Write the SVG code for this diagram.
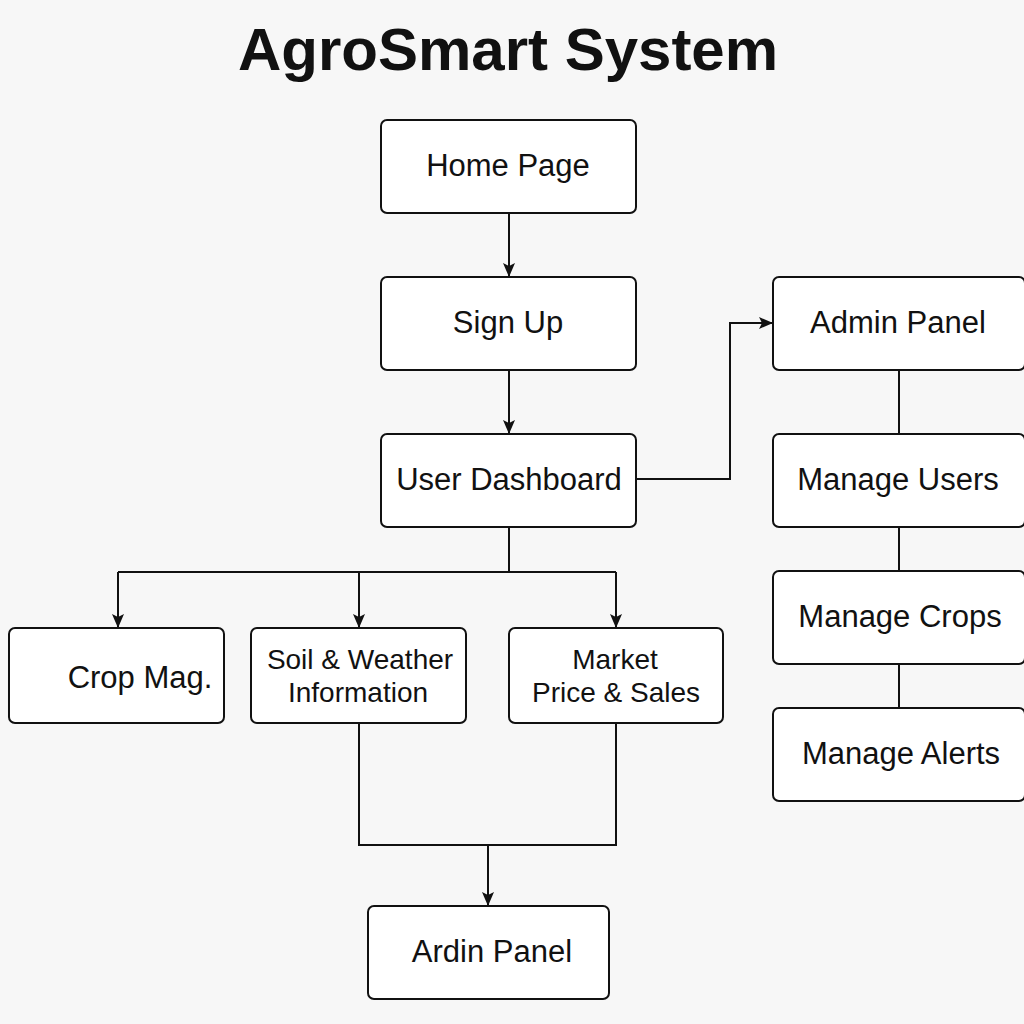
<svg xmlns="http://www.w3.org/2000/svg" width="1024" height="1024" viewBox="0 0 1024 1024">
<defs>
<marker id="arr" viewBox="0 0 14 12" refX="14" refY="6" markerWidth="14" markerHeight="12" markerUnits="userSpaceOnUse" orient="auto">
<path d="M0,0 L14,6 L0,12 L3,6 Z" fill="#111"/>
</marker>
</defs>
<style>
.box{fill:#fff;stroke:#111;stroke-width:2}
.lbl{font-family:"Liberation Sans",Arial,sans-serif;font-size:31px;fill:#111;text-anchor:middle}
.sm{font-size:28px}
.ttl{font-family:"Liberation Sans",Arial,sans-serif;font-size:60px;font-weight:bold;fill:#111;text-anchor:middle}
.ln{fill:none;stroke:#111;stroke-width:2}
</style>
<rect width="1024" height="1024" fill="#f7f7f7"/>
<text class="ttl" x="508" y="70">AgroSmart System</text>
<g id="connectors">
<path class="ln" d="M509,213 V277" marker-end="url(#arr)"/>
<path class="ln" d="M509,370 V434" marker-end="url(#arr)"/>
<path class="ln" d="M636,479 H730 V323 H773" marker-end="url(#arr)"/>
<path class="ln" d="M899,370 V434"/>
<path class="ln" d="M899,527 V571"/>
<path class="ln" d="M899,664 V708"/>
<path class="ln" d="M509,527 V572"/>
<path class="ln" d="M118,572 H616"/>
<path class="ln" d="M118,572 V628" marker-end="url(#arr)"/>
<path class="ln" d="M359,572 V628" marker-end="url(#arr)"/>
<path class="ln" d="M616,572 V628" marker-end="url(#arr)"/>
<path class="ln" d="M359,723 V845 H616 V723"/>
<path class="ln" d="M488,845 V906" marker-end="url(#arr)"/>
</g>
<g id="home"><rect class="box" x="381" y="120" width="255" height="93" rx="6"/><text class="lbl" x="508" y="176">Home Page</text></g>
<g id="signup"><rect class="box" x="381" y="277" width="255" height="93" rx="6"/><text class="lbl" x="508" y="333">Sign Up</text></g>
<g id="dashboard"><rect class="box" x="381" y="434" width="255" height="93" rx="6"/><text class="lbl" x="509" y="490">User Dashboard</text></g>
<g id="admin"><rect class="box" x="773" y="277" width="252" height="93" rx="6"/><text class="lbl" x="898" y="333">Admin Panel</text></g>
<g id="users"><rect class="box" x="773" y="434" width="252" height="93" rx="6"/><text class="lbl" x="898" y="490">Manage Users</text></g>
<g id="crops"><rect class="box" x="773" y="571" width="252" height="93" rx="6"/><text class="lbl" x="900" y="627">Manage Crops</text></g>
<g id="alerts"><rect class="box" x="773" y="708" width="252" height="93" rx="6"/><text class="lbl" x="901" y="764">Manage Alerts</text></g>
<g id="cropmag"><rect class="box" x="9" y="628" width="215" height="95" rx="6"/><text class="lbl" x="140" y="688">Crop Mag.</text></g>
<g id="soil"><rect class="box" x="251" y="628" width="215" height="95" rx="6"/><text class="lbl sm" x="360" y="669">Soil &amp; Weather</text><text class="lbl sm" x="358" y="702">Information</text></g>
<g id="market"><rect class="box" x="509" y="628" width="214" height="95" rx="6"/><text class="lbl sm" x="615" y="669">Market</text><text class="lbl sm" x="616" y="702">Price &amp; Sales</text></g>
<g id="ardin"><rect class="box" x="368" y="906" width="241" height="93" rx="6"/><text class="lbl" x="492" y="962">Ardin Panel</text></g>
</svg>
